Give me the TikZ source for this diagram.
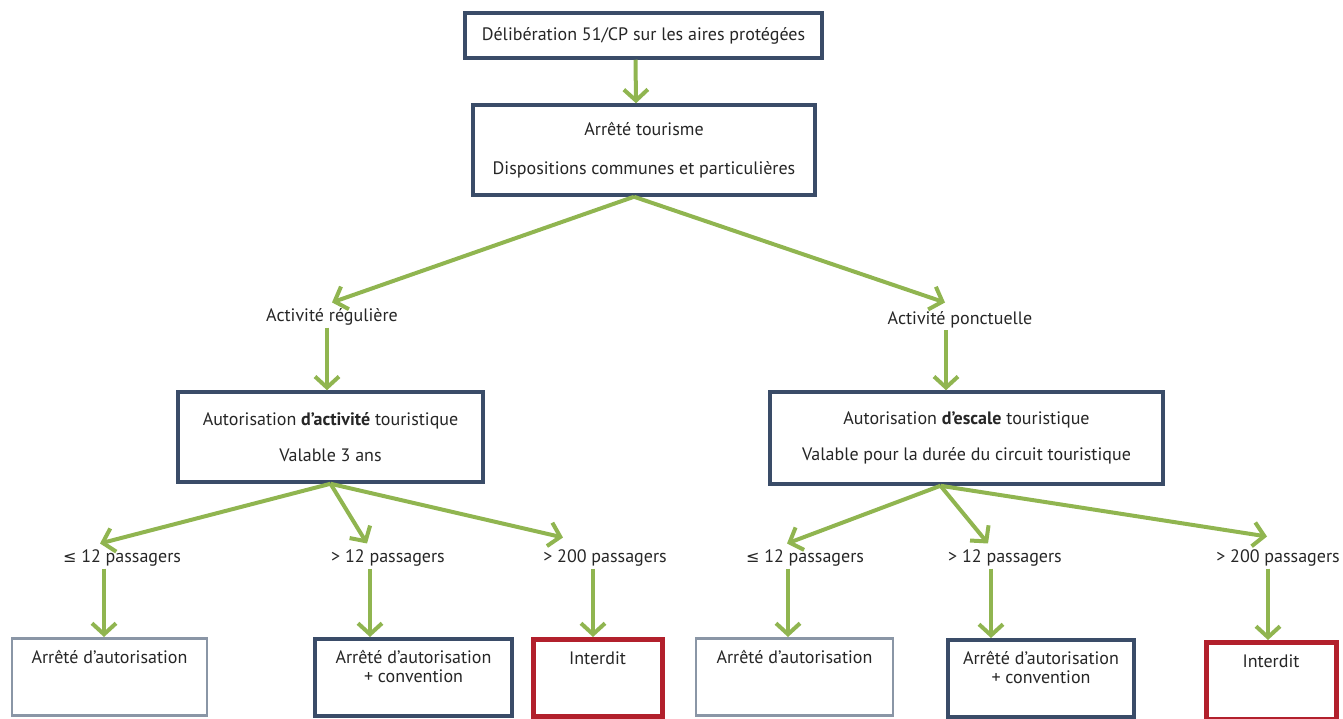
\documentclass[tikz,border=0pt]{standalone}
\usepackage{fontspec}
\setmainfont{PT Sans}
\newfontfamily\symfont{DejaVu Sans}
\usetikzlibrary{arrows.meta}

\definecolor{arrowgreen}{RGB}{144,181,80}
\definecolor{boxblue}{RGB}{58,76,104}
\definecolor{boxgrey}{RGB}{138,150,166}
\definecolor{boxred}{RGB}{178,32,44}

\newcommand{\atmost}{{\symfont\fontsize{16}{19}\selectfont ≤}}

\begin{document}
\begin{tikzpicture}[x=1pt, y=-1pt,
    every node/.style={font=\fontsize{18}{19}\selectfont, text=black!85},
    mainbox/.style={draw=boxblue, line width=3.5pt, fill=white, inner sep=0pt, align=center},
    endbox/.style={line width=3.5pt, fill=white, inner xsep=0pt, inner ysep=0pt,
      align=center, anchor=north, text height=25pt, text depth=52pt},
    twoline/.style={text height=44pt, text depth=33pt},
    blueend/.style={endbox, draw=boxblue},
    greyend/.style={endbox, draw=boxgrey, line width=2.5pt},
    redend/.style={endbox, draw=boxred, line width=5pt},
    case/.style={inner sep=2pt},
    arr/.style={draw=arrowgreen, line width=4pt,
      -{Straight Barb[length=11pt, width=24pt, line width=4pt]}}]
  \useasboundingbox (0,0) rectangle (1343,718);

  % top of the tree
  \node[mainbox, minimum width=357, minimum height=45] (delib) at (643.5, 35.5)
    {Délibération 51/CP sur les aires protégées};
  \node[mainbox, minimum width=342, minimum height=90] (arrete) at (644, 150)
    {Arrêté tourisme\\[20pt]Dispositions communes et particulières};
  \draw[arr] ([xshift=-8]delib.south) -- ([xshift=-8]arrete.north);

  % two kinds of activity
  \node[case] (regul) at (332, 317) {Activité régulière};
  \node[case] (ponct) at (960, 320) {Activité ponctuelle};
  \draw[arr] ([xshift=-10]arrete.south) -- ([yshift=4]regul.north);
  \draw[arr] ([xshift=-10]arrete.south) -- ([xshift=-15,yshift=7]ponct.north);

  \node[mainbox, minimum width=305, minimum height=90] (activ) at (330.5, 437)
    {Autorisation \textbf{d’activité} touristique\\[17pt]Valable 3 ans};
  \node[mainbox, minimum width=393, minimum height=92] (escale) at (966.5, 438)
    {Autorisation \textbf{d’escale} touristique\\[17pt]Valable pour la durée du circuit touristique};
  \draw[arr] ([xshift=-5]regul.south) -- ([xshift=-5]regul.south |- activ.north);
  \draw[arr] ([xshift=-14]ponct.south) -- ([xshift=-14]ponct.south |- escale.north);

  % passenger counts
  \node[case] (r1) at (122, 558) {\atmost\ 12 passagers};
  \node[case] (r2) at (388, 558) {> 12 passagers};
  \node[case] (r3) at (605, 558) {> 200 passagers};
  \node[case] (p1) at (805, 558) {\atmost\ 12 passagers};
  \node[case] (p2) at (1005, 558) {> 12 passagers};
  \node[case] (p3) at (1278, 558) {> 200 passagers};

  \draw[arr] (activ.south) -- ([xshift=-22,yshift=4]r1.north);
  \draw[arr] (activ.south) -- ([xshift=-21,yshift=4]r2.north);
  \draw[arr] (activ.south) -- ([xshift=-42,yshift=10]r3.north);
  \draw[arr] ([xshift=-26]escale.south) -- ([xshift=-18,yshift=4]p1.north);
  \draw[arr] ([xshift=-26]escale.south) -- ([xshift=-17,yshift=4]p2.north);
  \draw[arr] ([xshift=-26]escale.south) -- ([xshift=-11,yshift=11]p3.north);

  % outcomes
  \node[greyend, minimum width=195] (ra) at (109.5, 637) {Arrêté d’autorisation};
  \node[blueend, twoline, minimum width=197] (rb) at (413.5, 637) {Arrêté d’autorisation\\+ convention};
  \node[redend, minimum width=129] (rc) at (597.5, 637) {Interdit};
  \node[greyend, minimum width=197] (pa) at (794.5, 637) {Arrêté d’autorisation};
  \node[blueend, twoline, minimum width=186] (pb) at (1041, 638) {Arrêté d’autorisation\\+ convention};
  \node[redend, minimum width=130] (pc) at (1271, 640) {Interdit};

  \draw[arr] ([xshift=-18]r1.south) -- ([xshift=-18]r1.south |- ra.north);
  \draw[arr] ([xshift=-18]r2.south) -- ([xshift=-18]r2.south |- rb.north);
  \draw[arr] ([xshift=-12]r3.south) -- ([xshift=-12]r3.south |- rc.north);
  \draw[arr] ([xshift=-17]p1.south) -- ([xshift=-17]p1.south |- pa.north);
  \draw[arr] ([xshift=-14]p2.south) -- ([xshift=-14]p2.south |- pb.north);
  \draw[arr] ([xshift=-10]p3.south) -- ([xshift=-10]p3.south |- pc.north);
\end{tikzpicture}
\end{document}
